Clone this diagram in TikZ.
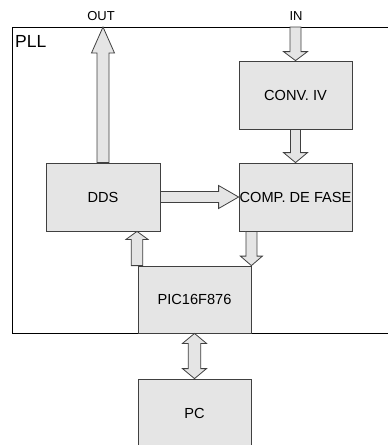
\documentclass[tikz,border=0pt]{standalone}
\usepackage{fontspec}
\setmainfont{Liberation Sans}
\usetikzlibrary{calc}

% block arrow: from, to, shaft half width, head half width, head length
\newcommand{\fatarrow}[5]{%
    \coordinate (fa-h) at ($(#2)!#5!(#1)$);
    \draw[fat] ($(#1)!#3!90:(#2)$) -- ($(fa-h)!#3!-90:(#1)$) -- ($(fa-h)!#4!-90:(#1)$)
        -- (#2) -- ($(fa-h)!#4!90:(#1)$) -- ($(fa-h)!#3!90:(#1)$) -- ($(#1)!#3!-90:(#2)$) -- cycle;
}
% double block arrow, same arguments
\newcommand{\fatdarrow}[5]{%
    \coordinate (fd-a) at ($(#1)!#5!(#2)$);
    \coordinate (fd-b) at ($(#2)!#5!(#1)$);
    \draw[fat] (#1) -- ($(fd-a)!#4!90:(#2)$) -- ($(fd-a)!#3!90:(#2)$) -- ($(fd-b)!#3!-90:(#1)$)
        -- ($(fd-b)!#4!-90:(#1)$) -- (#2) -- ($(fd-b)!#4!90:(#1)$) -- ($(fd-b)!#3!90:(#1)$)
        -- ($(fd-a)!#3!-90:(#2)$) -- ($(fd-a)!#4!-90:(#2)$) -- cycle;
}

\begin{document}
\begin{tikzpicture}[x=1pt, y=-1pt,
            block/.style={rectangle, draw=black!75, line width=0.8pt, fill=black!10,
            minimum width=113pt, minimum height=68pt, inner sep=0pt,
            font=\fontsize{14.6}{16}\selectfont},
            fat/.style={draw=black!75, line width=0.8pt, fill=black!10, line join=miter},
            frame/.style={draw=black, line width=0.9pt},
            io/.style={font=\fontsize{13}{15}\selectfont, inner sep=0pt, anchor=base},
        ]
    \useasboundingbox (0,0) rectangle (388,445);
    \clip (0,0) rectangle (388,445);

    %% PLL frame
    \draw[frame] (12,27) rectangle (400,333);
    \node[font=\fontsize{17.5}{20}\selectfont, inner sep=0pt, anchor=base west] (pll) at (15,47) {PLL};

    %% blocks
    \node[block] (conv) at (295.5,95)  {CONV. IV};
    \node[block] (comp) at (295.5,197) {COMP. DE FASE};
    \node[block, minimum width=114pt] (dds) at (103,197) {DDS};
    \node[block, minimum height=67pt] (pic) at (194.5,299.5) {PIC16F876};
    \node[block] (pc) at (194.5,413) {PC};

    %% in / out
    \coordinate (out) at (103,27);
    \coordinate (in) at (295.5,27);
    \node[io] (outlbl) at (101,20.7) {OUT};
    \node[io] (inlbl) at (296,20.7) {IN};

    \coordinate (up1) at ($(dds.south)+(34,0)$);
    \coordinate (up0) at (up1 |- pic.north);
    \coordinate (dn1) at (pic.north east);
    \coordinate (dn0) at (dn1 |- comp.south);

    %% arrows
    \fatarrow{dds.north}{out}{6pt}{11.5pt}{26pt}
    \fatarrow{in}{conv.north}{5.5pt}{12pt}{9pt}
    \fatarrow{conv.south}{comp.north}{5pt}{12pt}{10pt}
    \fatarrow{dds.east}{comp.west}{5.5pt}{11.5pt}{20pt}
    \fatarrow{up0}{up1}{5.8pt}{11pt}{8pt}
    \fatarrow{dn0}{dn1}{5.5pt}{11pt}{9.5pt}
    \fatdarrow{pic.south}{pc.north}{6.3pt}{12pt}{10pt}

\end{tikzpicture}
\end{document}
